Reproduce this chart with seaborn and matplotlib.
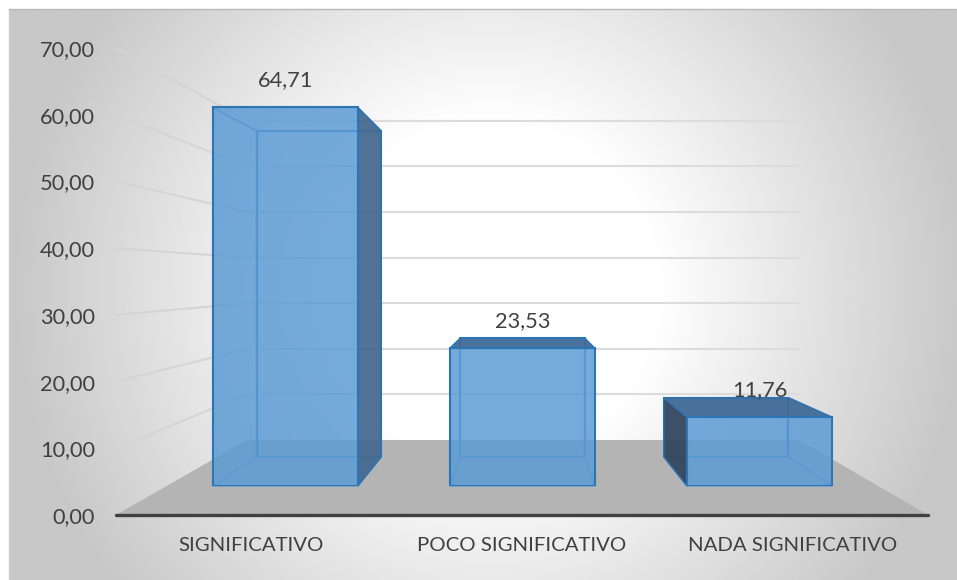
import numpy as np
import pandas as pd
import matplotlib
matplotlib.use("Agg")
import matplotlib.pyplot as plt
import seaborn as sns
from matplotlib.colors import to_rgba
from matplotlib.lines import Line2D
from matplotlib.patches import Polygon
from matplotlib.transforms import IdentityTransform

categories = ["SIGNIFICATIVO", "POCO SIGNIFICATIVO", "NADA SIGNIFICATIVO"]
values = [64.71, 23.53, 11.76]
axis_ticks = [0, 10, 20, 30, 40, 50, 60, 70]

W, H = 957, 580
BLUE = "#5B9BD5"
EDGE = "#2E75B6"
TEXT = "#404040"
BAR_W = 0.612

sns.set_theme(style="white")
plt.rcParams["font.family"] = ["Lato", "DejaVu Sans"]
fig = plt.figure(figsize=(W / 100, H / 100), dpi=100, facecolor="white")
df = pd.DataFrame({"categoria": categories, "valor": values})


def scene_ax(left, right, base, scale, z):
    """Axes in pixel placement: value 0 sits at y=base, `scale` px per unit."""
    ax = fig.add_axes([left / W, (H - base) / H, (right - left) / W, 70 * scale / H],
                      zorder=z)
    ax.patch.set_alpha(0)
    ax.set_xlim(-0.5, 2.5)
    ax.set_ylim(0, 70)
    for s in ax.spines.values():
        s.set_visible(False)
    ax.set_xticks([])
    ax.set_yticks([])
    ax.set_xlabel("")
    ax.set_ylabel("")
    return ax


def bars(ax, alpha):
    sns.barplot(df, x="categoria", y="valor", ax=ax, color=BLUE, saturation=1,
                width=BAR_W, edgecolor=EDGE, linewidth=1.5)
    for p in ax.patches:
        p.set_facecolor(to_rgba(BLUE, alpha))
    ax.set_xlim(-0.5, 2.5)
    ax.set_ylim(0, 70)
    ax.set_xticks([])
    ax.set_yticks([])
    ax.set_xlabel("")
    ax.set_ylabel("")


# gradient panel
bg = fig.add_axes([9 / W, 0, (W - 9) / W, (H - 9) / H], zorder=0)
xx, yy = np.meshgrid(np.linspace(9, W, 400), np.linspace(9, H, 300))
t = np.hypot((xx - 490) / 474, 0.6 * (yy - 290) / 285)
shade = 255 - 55 * np.clip((t - 0.35) / 0.65, 0, 1)
bg.imshow(shade, cmap="gray", vmin=0, vmax=255, aspect="auto",
          extent=(0, 1, 0, 1), interpolation="bilinear")
bg.set_xticks([])
bg.set_yticks([])
bg.spines["right"].set_visible(False)
bg.spines["bottom"].set_visible(False)
bg.spines["top"].set_color("#b8b8b8")
bg.spines["left"].set_color("#cccccc")
bg.spines["top"].set_linewidth(1)
bg.spines["left"].set_linewidth(1)

# value axis and category labels
main = scene_ax(116, 928, 515, 6.67, 1)
main.set_yticks(axis_ticks, [f"{v:.2f}".replace(".", ",") for v in axis_ticks])
main.set_xticks(range(len(categories)), categories)
main.tick_params(axis="y", length=0, pad=15, labelsize=15.7, labelcolor=TEXT)
main.tick_params(axis="x", length=0, pad=16, labelsize=14.7, labelcolor=TEXT)
main.spines["bottom"].set_visible(True)
main.spines["bottom"].set_color("#404040")
main.spines["bottom"].set_linewidth(2.4)
main.spines["bottom"].set_capstyle("round")

# rear wall with its gridlines
wall = scene_ax(247, 799, 440, 4.56, 3)
wall.set_yticks(axis_ticks[1:])
wall.tick_params(axis="y", length=0, labelleft=False)
wall.grid(axis="y", color="#dcdcdc", linewidth=1.5)
for gl in wall.get_ygridlines():
    gl.set_clip_on(False)

# floor and side-wall lines
a = main.transData.transform([(-0.5, 0), (2.5, 0)])
b = wall.transData.transform([(-0.5, 0), (2.5, 0)])
fig.add_artist(Polygon([a[0], b[0], b[1], a[1]], closed=True, facecolor="#b4b4b4",
                       edgecolor="none", transform=IdentityTransform(), zorder=0.5))
for v in axis_ticks[1:]:
    p0 = main.transData.transform((-0.5, v))
    p1 = wall.transData.transform((-0.5, v))
    fig.add_artist(Line2D([p0[0], p1[0]], [p0[1], p1[1]], color="#d4d4d4", linewidth=1.4,
                          transform=IdentityTransform(), zorder=2))

# cuboids: rear faces, side faces, front faces
back = scene_ax(217, 828, 457, 5.04, 4)
bars(back, 0.6)
back.patch.set_alpha(0)
front = scene_ax(166.7, 878, 486, 5.85, 7)
bars(front, 0.6)

INNER = dict(facecolor=to_rgba(BLUE, 0.6), edgecolor=to_rgba("#5B9BD5", 0.9), linewidth=1.1)


def face(points, style, z):
    fig.add_artist(Polygon(points, closed=True, transform=IdentityTransform(), zorder=z, **style))


def dark(colour):
    return dict(facecolor=to_rgba(colour, 0.85), edgecolor=EDGE, linewidth=1.0)


for i, v in enumerate(values):
    l, r = i - BAR_W / 2, i + BAR_W / 2
    fb, ft = front.transData.transform([(l, 0), (l, v)])
    fbr, ftr = front.transData.transform([(r, 0), (r, v)])
    bb, bt = back.transData.transform([(l, 0), (l, v)])
    bbr, btr = back.transData.transform([(r, 0), (r, v)])

    left_face = [fb, ft, bt, bb]
    right_face = [fbr, ftr, btr, bbr]
    top_face = [ft, ftr, btr, bt]
    bottom_face = [fb, fbr, bbr, bb]

    face(bottom_face, INNER, 5)
    # a side or top is seen from outside only when its rear edge shows past the front
    face(left_face, dark("#2E3D51") if bb[0] < fb[0] else INNER, 6 if bb[0] < fb[0] else 5)
    face(right_face, dark("#426489") if bbr[0] > fbr[0] else INNER, 6 if bbr[0] > fbr[0] else 5)
    face(top_face, dark("#3D6490") if bt[1] > ft[1] else INNER, 6 if bt[1] > ft[1] else 5)

    front.annotate(f"{v:.2f}".replace(".", ","), (i, v), xytext=(0, 27),
                   textcoords="offset pixels", ha="center", va="center",
                   fontsize=15.7, color=TEXT, annotation_clip=False)

fig.savefig("out.png", dpi=100)
